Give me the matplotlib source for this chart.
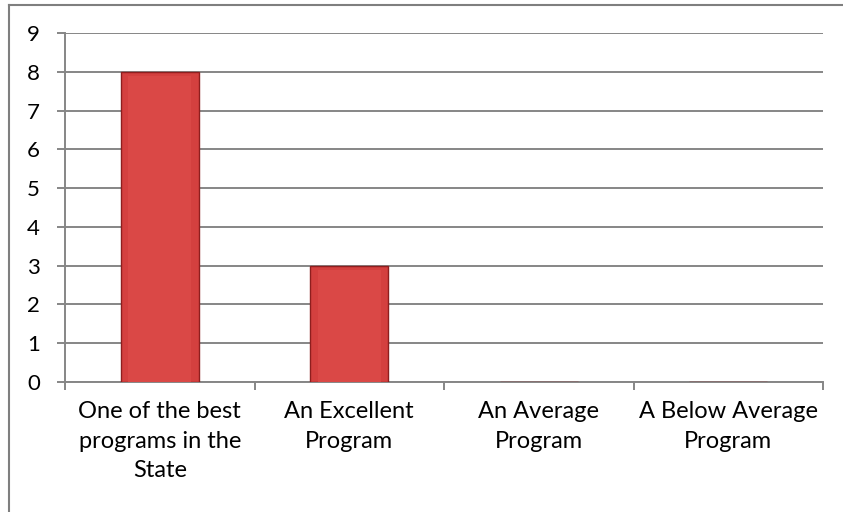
import matplotlib.pyplot as plt
import numpy as np
from matplotlib.lines import Line2D

plt.rcParams['font.family'] = ['Lato', 'DejaVu Sans']

categories = ["One of the best\nprograms in the\nState", "An Excellent\nProgram",
              "An Average\nProgram", "A Below Average\nProgram"]
counts = [8, 3, 0, 0]
y_ticks = list(range(0, 10))

grid_col = '#868686'

fig = plt.figure(figsize=(8.43, 5.12), dpi=100)
ax = fig.add_axes([65 / 843, 1 - 382 / 512, (823 - 65) / 843, (382 - 33) / 512])

x = np.arange(len(categories))
ax.bar(x, counts, width=0.41, color='#D4403F', edgecolor='#8E1E1E', linewidth=1.0, zorder=3)
# lighter inner face to hint at the bevel
ax.bar(x, [c - 0.12 if c > 0 else 0 for c in counts], width=0.33, color='#DA4846',
       linewidth=0, zorder=4)

ax.set_xlim(-0.5, len(categories) - 0.5)
ax.set_ylim(0, 9)
ax.set_yticks(y_ticks)
ax.yaxis.grid(True, color=grid_col, linewidth=1.4, zorder=0)
ax.set_axisbelow(True)

ax.set_xticks(x)
ax.set_xticklabels(categories, fontsize=17, linespacing=1.5, color='black')
ax.set_xticks(np.arange(-0.5, len(categories)), minor=True)
ax.tick_params(axis='x', which='major', length=0, pad=14)
ax.tick_params(axis='x', which='minor', length=6, width=1.4, color=grid_col)
ax.tick_params(axis='y', length=6, width=1.4, color=grid_col, labelsize=16, pad=12)

for s in ['top', 'right']:
    ax.spines[s].set_visible(False)
for s in ['left', 'bottom']:
    ax.spines[s].set_color(grid_col)
    ax.spines[s].set_linewidth(1.4)

# outer chart border (right and bottom edges are cropped off)
fig.add_artist(Line2D([9 / 843, 9 / 843], [0, 1 - 5 / 512], color='#7F7F7F', linewidth=1.5,
                      transform=fig.transFigure))
fig.add_artist(Line2D([9 / 843, 1], [1 - 5 / 512, 1 - 5 / 512], color='#7F7F7F', linewidth=1.5,
                      transform=fig.transFigure))

fig.savefig('out.png', dpi=100)
